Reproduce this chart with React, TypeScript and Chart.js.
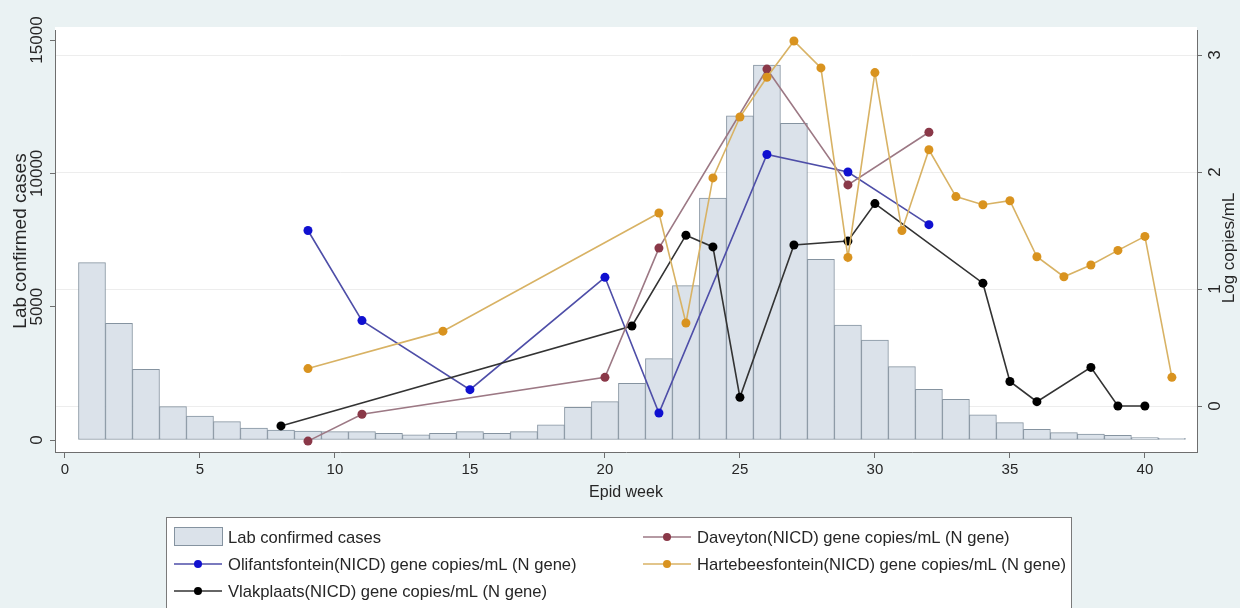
import React, { useEffect, useRef } from "react";
import { Chart, registerables } from "chart.js";

Chart.register(...registerables);

// ---------- data ----------
const weeks = [1, 2, 3, 4, 5, 6, 7, 8, 9, 10, 11, 12, 13, 14, 15, 16, 17, 18, 19, 20, 21, 22, 23, 24, 25, 26, 27, 28, 29, 30, 31, 32, 33, 34, 35, 36, 37, 38, 39, 40, 41];
const labCases = [6650, 4375, 2650, 1250, 900, 690, 450, 375, 330, 312, 312, 250, 190, 250, 312, 250, 312, 570, 1225, 1440, 2125, 3050, 5790, 9075, 12160, 14060, 11875, 6775, 4310, 3750, 2750, 1900, 1525, 940, 650, 400, 275, 225, 175, 90, 60];

const olifWeeks = [9, 11, 15, 20, 22, 26, 29, 32];
const olifValues = [1.5, 0.73, 0.14, 1.1, -0.06, 2.15, 2.0, 1.55];

const vlakWeeks = [8, 21, 23, 24, 25, 27, 29, 30, 34, 35, 36, 38, 39, 40];
const vlakValues = [-0.17, 0.684, 1.46, 1.36, 0.074, 1.376, 1.41, 1.73, 1.05, 0.21, 0.037, 0.33, 0.0, 0.0];

const daveWeeks = [9, 11, 20, 22, 26, 29, 32];
const daveValues = [-0.3, -0.07, 0.245, 1.35, 2.88, 1.89, 2.34];

const hartWeeks = [9, 14, 22, 23, 24, 25, 26, 27, 28, 29, 30, 31, 32, 33, 34, 35, 36, 37, 38, 39, 40, 41];
const hartValues = [0.32, 0.64, 1.65, 0.71, 1.95, 2.47, 2.81, 3.12, 2.89, 1.27, 2.85, 1.5, 2.19, 1.79, 1.72, 1.755, 1.276, 1.105, 1.205, 1.33, 1.45, 0.245];

const xTicks = [0, 5, 10, 15, 20, 25, 30, 35, 40];
const leftTicks = [0, 5000, 10000, 15000];
const rightTicks = [0, 1, 2, 3];

const seriesLabels = [
  "Lab confirmed cases",
  "Olifantsfontein(NICD) gene copies/mL (N gene)",
  "Vlakplaats(NICD) gene copies/mL (N gene)",
  "Daveyton(NICD) gene copies/mL (N gene)",
  "Hartebeesfontein(NICD) gene copies/mL (N gene)",
];

const FONT = '"Liberation Sans", Arial, Helvetica, sans-serif';
const TEXT = "#262626";
const AXIS = "#6e6e6e";

function pts(xs: number[], ys: number[]) {
  return xs.map((x, i) => ({ x, y: ys[i] }));
}

const decorPlugin = {
  id: "decor",
  beforeDraw(chart: any) {
    const { ctx, chartArea } = chart;
    ctx.save();
    ctx.fillStyle = "#ffffff";
    ctx.fillRect(chartArea.left, chartArea.top - 3, chartArea.right - chartArea.left, chartArea.bottom - chartArea.top + 3);
    ctx.restore();
  },
  afterDraw(chart: any) {
    const { ctx, chartArea, scales } = chart;
    const yL = scales.y;
    const yR = scales.y1;
    ctx.save();
    ctx.fillStyle = TEXT;
    ctx.textAlign = "center";
    ctx.textBaseline = "middle";

    const rotText = (txt: string, x: number, y: number, size: number) => {
      ctx.save();
      ctx.font = `${size}px ${FONT}`;
      ctx.translate(x, y);
      ctx.rotate(-Math.PI / 2);
      ctx.fillText(txt, 0, 0);
      ctx.restore();
    };

    // left tick labels and title
    leftTicks.forEach((v) => rotText(String(v), 37, yL.getPixelForValue(v), 17));
    rotText("Lab confirmed cases", 21, (chartArea.top + chartArea.bottom) / 2, 19);
    // right tick labels and title
    rightTicks.forEach((v) => rotText(String(v), chartArea.right + 18, yR.getPixelForValue(v), 17));
    rotText("Log copies/mL", chartArea.right + 32, (chartArea.top + chartArea.bottom) / 2 + 7, 17);

    // x title
    ctx.font = `16px ${FONT}`;
    ctx.fillText("Epid week", (chartArea.left + chartArea.right) / 2, 493);

    // legend
    const box = { x: 166.5, y: 517.5, w: 905, h: 100 };
    ctx.fillStyle = "#ffffff";
    ctx.fillRect(box.x, box.y, box.w, box.h);
    ctx.strokeStyle = "#7a7a7a";
    ctx.lineWidth = 1;
    ctx.strokeRect(box.x, box.y, box.w, box.h);

    const colX = [174, 643];
    const rowY = [537, 564, 591];
    const layout = [
      [0, 0],
      [0, 1],
      [0, 2],
      [1, 0],
      [1, 1],
    ];
    const symW = 48;
    ctx.font = `16.6px ${FONT}`;
    ctx.textAlign = "left";
    chart.data.datasets.forEach((ds: any, i: number) => {
      const [c, r] = layout[i];
      const x0 = colX[c];
      const yc = rowY[r];
      if (ds.type === "bar") {
        ctx.fillStyle = ds.backgroundColor;
        ctx.strokeStyle = ds.borderColor;
        ctx.lineWidth = 1;
        ctx.fillRect(x0 + 0.5, yc - 9.5, symW, 18);
        ctx.strokeRect(x0 + 0.5, yc - 9.5, symW, 18);
      } else {
        ctx.strokeStyle = ds.borderColor;
        ctx.lineWidth = ds.borderWidth;
        ctx.beginPath();
        ctx.moveTo(x0, yc);
        ctx.lineTo(x0 + symW, yc);
        ctx.stroke();
        ctx.fillStyle = ds.pointBackgroundColor;
        ctx.beginPath();
        ctx.arc(x0 + symW / 2, yc, 4, 0, Math.PI * 2);
        ctx.fill();
      }
      ctx.fillStyle = TEXT;
      ctx.fillText(ds.label, x0 + symW + 6, yc + 1);
    });
    ctx.restore();
  },
};

export default function App() {
  const canvasRef = useRef<HTMLCanvasElement>(null);

  useEffect(() => {
    const canvas = canvasRef.current;
    if (!canvas) return;
    const lineDs = (label: string, xs: number[], ys: number[], line: string, dot: string, order: number) => ({
      type: "line" as const,
      label,
      data: pts(xs, ys),
      yAxisID: "y1",
      borderColor: line,
      borderWidth: 1.6,
      pointRadius: 4.5,
      pointHoverRadius: 4.5,
      pointBackgroundColor: dot,
      pointBorderColor: dot,
      pointBorderWidth: 0,
      tension: 0,
      fill: false,
      order,
    });

    const chart = new Chart(canvas, {
      type: "bar",
      data: {
        datasets: [
          {
            type: "bar" as const,
            label: seriesLabels[0],
            data: pts(weeks, labCases),
            yAxisID: "y",
            backgroundColor: "#dbe2ea",
            borderColor: "#8593a0",
            borderWidth: 1,
            borderSkipped: false,
            barPercentage: 1,
            categoryPercentage: 1,
            order: 10,
          } as any,
          lineDs(seriesLabels[1], olifWeeks, olifValues, "#4e4ea8", "#1010d0", 4),
          lineDs(seriesLabels[2], vlakWeeks, vlakValues, "#333333", "#000000", 3),
          lineDs(seriesLabels[3], daveWeeks, daveValues, "#9c7884", "#8a3848", 2),
          lineDs(seriesLabels[4], hartWeeks, hartValues, "#d8b264", "#d9931f", 1),
        ],
      },
      options: {
        responsive: false,
        animation: false,
        devicePixelRatio: 1,
        layout: { padding: { top: 30, left: 0, right: 0, bottom: 0 } },
        plugins: {
          legend: { display: false },
          tooltip: { enabled: false },
        },
        scales: {
          x: {
            type: "linear",
            offset: false,
            min: -0.37,
            max: 41.93,
            afterBuildTicks: (s: any) => {
              s.ticks = xTicks.map((v) => ({ value: v }));
            },
            afterFit: (s: any) => {
              s.height = 156;
            },
            grid: { offset: false, drawOnChartArea: false, drawTicks: true, tickLength: 6, tickColor: AXIS },
            border: { display: true, color: AXIS, width: 1 },
            ticks: { color: TEXT, font: { family: FONT, size: 15 }, padding: 3, maxRotation: 0, autoSkip: false },
          },
          y: {
            type: "linear",
            position: "left",
            min: -450,
            max: 15375,
            afterBuildTicks: (s: any) => {
              s.ticks = leftTicks.map((v) => ({ value: v }));
            },
            afterFit: (s: any) => {
              s.width = 55;
            },
            grid: { drawOnChartArea: false, drawTicks: true, tickLength: 5, tickColor: AXIS },
            border: { display: true, color: AXIS, width: 1 },
            ticks: { display: false },
          },
          y1: {
            type: "linear",
            position: "right",
            min: -0.393,
            max: 3.214,
            afterBuildTicks: (s: any) => {
              s.ticks = rightTicks.map((v) => ({ value: v }));
            },
            afterFit: (s: any) => {
              s.width = 43;
            },
            grid: { drawOnChartArea: true, color: "#ededed", lineWidth: 1, drawTicks: true, tickLength: 5, tickColor: AXIS },
            border: { display: true, color: AXIS, width: 1 },
            ticks: { display: false },
          },
        },
      },
      plugins: [decorPlugin],
    });
    return () => chart.destroy();
  }, []);

  return (
    <div style={{ position: "fixed", left: 0, top: 0, width: 1240, height: 608, background: "#eaf2f3", overflow: "hidden" }}>
      <canvas ref={canvasRef} width={1240} height={608} style={{ display: "block" }} />
    </div>
  );
}
